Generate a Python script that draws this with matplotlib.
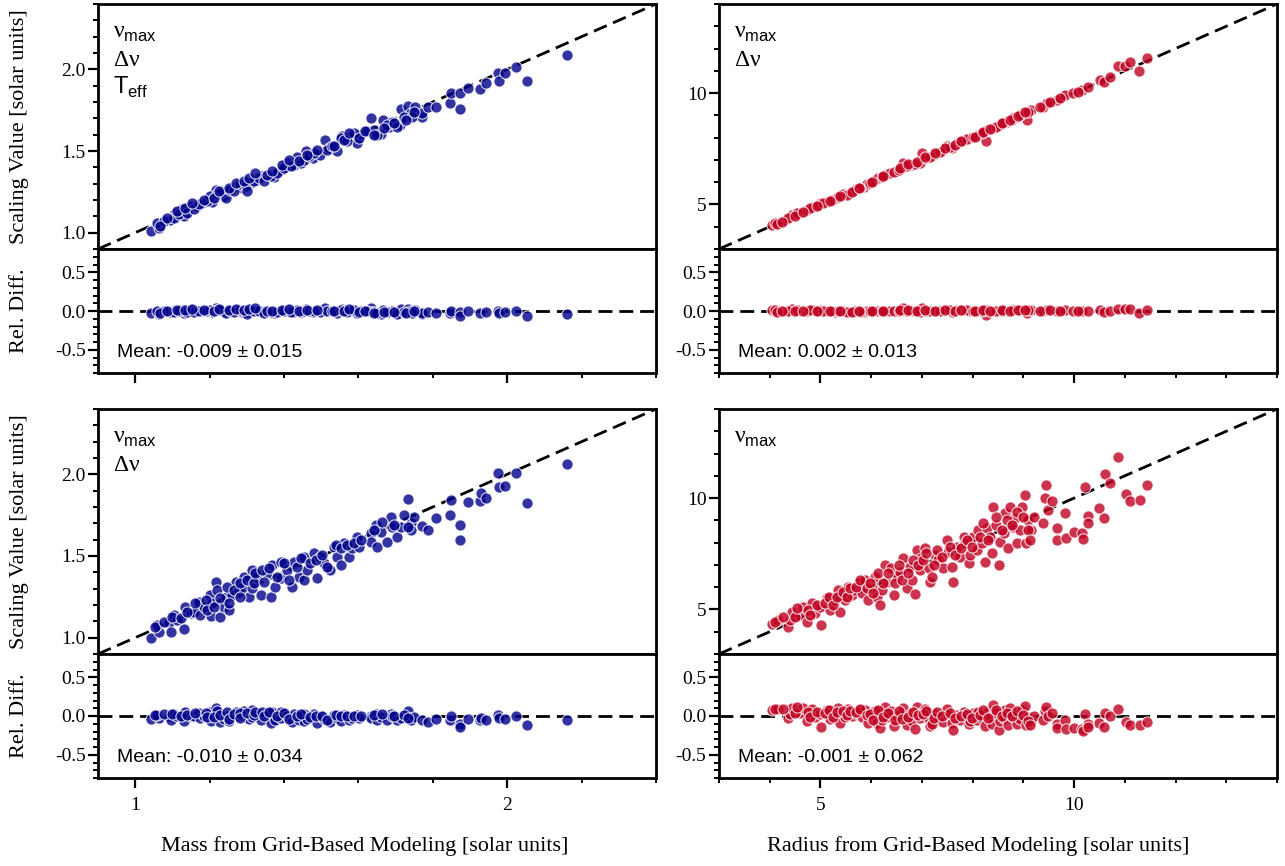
import matplotlib

matplotlib.use("Agg")
import matplotlib.pyplot as plt
import numpy as np
from matplotlib.ticker import MultipleLocator

# --- values ---
mass_grid_full = [
    1.043, 1.065, 1.059, 1.093, 1.108, 1.131, 1.126, 1.149, 1.167, 1.180,
    1.207, 1.216, 1.238, 1.247, 1.274, 1.288, 1.310, 1.328, 1.337, 1.373,
    1.391, 1.409, 1.427, 1.436, 1.458, 1.478, 1.498, 1.510, 1.521, 1.543,
    1.557, 1.579, 1.597, 1.606, 1.633, 1.636, 1.660, 1.667, 1.682, 1.689,
    1.712, 1.714, 1.734, 1.741, 1.751, 1.770, 1.772, 1.787, 1.809, 1.846,
    1.850, 1.873, 1.873, 1.895, 1.927, 1.942, 1.974, 1.978, 1.994, 2.023,
    2.053, 2.160,
    1.077, 1.104, 1.117, 1.140, 1.157, 1.171, 1.193, 1.202, 1.220, 1.229,
    1.243, 1.256, 1.265, 1.283, 1.297, 1.301, 1.319, 1.332, 1.346, 1.364,
    1.382, 1.400, 1.418, 1.445, 1.453, 1.467, 1.480, 1.516, 1.530, 1.552,
    1.570, 1.588, 1.624, 1.642, 1.651, 1.678, 1.705, 1.723, 1.745,
    1.068, 1.086, 1.113, 1.135, 1.153, 1.184, 1.211, 1.225, 1.252, 1.270,
    1.292, 1.305, 1.323, 1.355, 1.368, 1.395, 1.413, 1.440, 1.463, 1.490,
    1.534, 1.561, 1.575, 1.601, 1.619, 1.642, 1.669, 1.696, 1.727, 1.750,
]
mass_scaling_full = [
    1.010, 1.026, 1.057, 1.077, 1.122, 1.101, 1.142, 1.162, 1.162, 1.183,
    1.187, 1.264, 1.223, 1.254, 1.284, 1.274, 1.305, 1.325, 1.345, 1.339,
    1.386, 1.427, 1.416, 1.463, 1.498, 1.457, 1.476, 1.565, 1.518, 1.498,
    1.593, 1.589, 1.549, 1.604, 1.701, 1.610, 1.604, 1.687, 1.650, 1.680,
    1.660, 1.756, 1.776, 1.732, 1.768, 1.711, 1.735, 1.770, 1.770, 1.793,
    1.854, 1.854, 1.758, 1.888, 1.878, 1.915, 1.976, 1.931, 1.976, 2.012,
    1.929, 2.089,
    1.071, 1.091, 1.112, 1.122, 1.142, 1.173, 1.193, 1.223, 1.234, 1.244,
    1.213, 1.264, 1.254, 1.295, 1.284, 1.254, 1.315, 1.335, 1.315, 1.345,
    1.366, 1.396, 1.406, 1.427, 1.447, 1.467, 1.488, 1.508, 1.528, 1.579,
    1.559, 1.610, 1.620, 1.630, 1.599, 1.660, 1.650, 1.711, 1.711,
    1.040, 1.091, 1.132, 1.152, 1.179, 1.203, 1.213, 1.254, 1.274, 1.305,
    1.315, 1.335, 1.366, 1.355, 1.376, 1.416, 1.447, 1.437, 1.477, 1.508,
    1.528, 1.569, 1.610, 1.579, 1.620, 1.599, 1.640, 1.670, 1.691, 1.741,
]

mass_grid_nu = [
    1.043, 1.063, 1.059, 1.090, 1.095, 1.104, 1.113, 1.131, 1.135, 1.149,
    1.157, 1.171, 1.175, 1.184, 1.202, 1.205, 1.207, 1.216, 1.220, 1.227,
    1.238, 1.243, 1.252, 1.261, 1.270, 1.279, 1.288, 1.292, 1.305, 1.315,
    1.315, 1.328, 1.337, 1.355, 1.364, 1.368, 1.377, 1.391, 1.391, 1.409,
    1.422, 1.427, 1.440, 1.453, 1.453, 1.463, 1.480, 1.490, 1.498, 1.507,
    1.525, 1.534, 1.543, 1.552, 1.561, 1.575, 1.584, 1.597, 1.601, 1.633,
    1.633, 1.646, 1.651, 1.660, 1.678, 1.687, 1.689, 1.705, 1.714, 1.732,
    1.741, 1.741, 1.750, 1.770, 1.787, 1.809, 1.846, 1.850, 1.873, 1.873,
    1.895, 1.927, 1.929, 1.942, 1.974, 1.978, 1.994, 2.023, 2.053, 2.160,
    1.054, 1.077, 1.099, 1.122, 1.140, 1.162, 1.189, 1.193, 1.211, 1.229,
    1.247, 1.252, 1.265, 1.283, 1.283, 1.301, 1.319, 1.323, 1.341, 1.346,
    1.359, 1.382, 1.400, 1.413, 1.436, 1.445, 1.471, 1.485, 1.503, 1.516,
    1.539, 1.552, 1.570, 1.588, 1.606, 1.642, 1.664, 1.696, 1.723, 1.732,
]
mass_scaling_nu = [
    1.000, 1.037, 1.078, 1.088, 1.037, 1.139, 1.108, 1.053, 1.190, 1.153,
    1.159, 1.220, 1.139, 1.190, 1.261, 1.133, 1.214, 1.343, 1.292, 1.129,
    1.190, 1.251, 1.170, 1.261, 1.343, 1.282, 1.302, 1.374, 1.251, 1.415,
    1.302, 1.374, 1.261, 1.394, 1.247, 1.445, 1.312, 1.465, 1.364, 1.415,
    1.312, 1.465, 1.374, 1.496, 1.353, 1.415, 1.517, 1.364, 1.496, 1.456,
    1.415, 1.557, 1.496, 1.445, 1.578, 1.496, 1.547, 1.618, 1.557, 1.639,
    1.588, 1.690, 1.557, 1.649, 1.588, 1.737, 1.680, 1.615, 1.680, 1.847,
    1.700, 1.660, 1.737, 1.684, 1.660, 1.731, 1.751, 1.843, 1.690, 1.598,
    1.833, 1.837, 1.888, 1.854, 2.007, 1.921, 1.929, 2.010, 1.823, 2.062,
    1.067, 1.098, 1.129, 1.119, 1.159, 1.211, 1.231, 1.170, 1.190, 1.241,
    1.312, 1.211, 1.292, 1.333, 1.251, 1.353, 1.333, 1.394, 1.415, 1.343,
    1.425, 1.374, 1.456, 1.353, 1.435, 1.486, 1.456, 1.476, 1.506, 1.435,
    1.568, 1.547, 1.568, 1.578, 1.598, 1.660, 1.710, 1.690, 1.751, 1.680,
]

radius_grid_full = [
    4.04, 4.17, 4.30, 4.43, 4.60, 4.73, 4.86, 4.99, 5.12, 5.29,
    5.45, 5.58, 5.68, 5.85, 5.91, 6.08, 6.14, 6.31, 6.37, 6.50,
    6.60, 6.63, 6.80, 6.96, 7.00, 7.09, 7.23, 7.29, 7.42, 7.49,
    7.59, 7.69, 7.82, 7.95, 8.11, 8.26, 8.28, 8.41, 8.54, 8.67,
    8.77, 8.87, 9.00, 9.07, 9.16, 9.39, 9.46, 9.66, 9.82, 9.98,
    10.15, 10.28, 10.51, 10.58, 10.71, 10.87, 11.00, 11.10, 11.27, 11.43,
    4.10, 4.37, 4.53, 4.79, 4.96, 5.06, 5.22, 5.35, 5.52, 5.78,
    5.98, 6.21, 6.44, 6.54, 6.70, 6.86, 7.16, 7.36, 7.55, 7.75,
    7.88, 8.01, 8.18, 8.47, 8.60, 8.80, 8.93, 9.10,
    4.14, 4.24, 4.50, 4.66, 4.93, 5.19, 5.39, 5.62, 5.75, 6.01,
    6.24, 6.57, 6.73, 6.90, 7.06, 7.26, 7.46, 7.65, 7.78, 8.05,
    8.21, 8.34, 8.57, 8.74, 8.90, 9.03, 9.33, 9.52, 9.72, 10.08,
]
radius_scaling_full = [
    4.08, 4.18, 4.30, 4.53, 4.60, 4.75, 4.90, 5.05, 5.13, 5.23,
    5.47, 5.50, 5.65, 5.80, 5.92, 6.10, 6.17, 6.35, 6.40, 6.50,
    6.62, 6.85, 6.77, 6.85, 7.30, 7.07, 7.22, 7.30, 7.45, 7.63,
    7.52, 7.75, 7.89, 7.97, 8.12, 7.86, 8.34, 8.42, 8.57, 8.72,
    8.79, 8.94, 9.09, 8.79, 9.24, 9.39, 9.54, 9.69, 9.92, 9.99,
    10.14, 10.29, 10.59, 10.51, 10.74, 11.22, 11.22, 11.41, 10.99, 11.56,
    4.15, 4.38, 4.60, 4.83, 4.98, 5.08, 5.20, 5.35, 5.42, 5.72,
    5.95, 6.25, 6.47, 6.55, 6.73, 6.82, 7.15, 7.37, 7.60, 7.82,
    7.94, 8.04, 8.19, 8.49, 8.64, 8.87, 9.02, 9.17,
    4.11, 4.23, 4.48, 4.68, 4.95, 5.16, 5.38, 5.58, 5.72, 6.02,
    6.28, 6.62, 6.82, 6.92, 7.15, 7.30, 7.52, 7.67, 7.85, 8.04,
    8.27, 8.37, 8.64, 8.79, 8.97, 9.17, 9.39, 9.62, 9.77, 10.07,
]

radius_grid_nu = [
    4.04, 4.17, 4.37, 4.40, 4.43, 4.60, 4.66, 4.73, 4.83, 4.89,
    4.99, 5.02, 5.12, 5.19, 5.29, 5.35, 5.39, 5.48, 5.55, 5.62,
    5.68, 5.75, 5.81, 5.88, 5.94, 6.01, 6.08, 6.11, 6.17, 6.21,
    6.27, 6.31, 6.40, 6.44, 6.50, 6.57, 6.63, 6.70, 6.77, 6.80,
    6.86, 6.90, 6.96, 6.99, 7.06, 7.13, 7.16, 7.19, 7.26, 7.32,
    7.42, 7.49, 7.52, 7.59, 7.62, 7.69, 7.75, 7.82, 7.85, 7.92,
    7.95, 8.01, 8.08, 8.11, 8.18, 8.24, 8.28, 8.34, 8.38, 8.41,
    8.47, 8.51, 8.54, 8.61, 8.64, 8.70, 8.74, 8.80, 8.84, 8.88,
    8.93, 8.97, 9.03, 9.05, 9.10, 9.16, 9.20, 9.39, 9.43, 9.45,
    9.49, 9.56, 9.66, 9.67, 9.82, 9.85, 9.99, 10.15, 10.18, 10.21,
    10.28, 10.28, 10.50, 10.58, 10.61, 10.71, 10.87, 11.02, 11.10, 11.29,
    11.43,
    4.10, 4.27, 4.50, 4.53, 4.76, 4.79, 4.93, 5.09, 5.16, 5.25,
    5.32, 5.45, 5.52, 5.58, 5.71, 5.78, 5.91, 5.98, 6.04, 6.14,
    6.24, 6.34, 6.47, 6.54, 6.60, 6.73, 6.83, 6.93, 7.03, 7.09,
    7.23, 7.29, 7.39, 7.55, 7.65, 7.78, 7.88, 7.98, 8.15, 8.21,
    8.31, 8.47, 8.57, 8.67, 8.77, 8.87, 9.00, 9.10, 9.13,
]
radius_scaling_nu = [
    4.33, 4.53, 4.23, 4.53, 4.90, 4.75, 5.13, 4.45, 5.27, 4.83,
    5.13, 4.30, 5.50, 4.98, 5.42, 5.87, 4.90, 5.42, 6.02, 5.65,
    5.87, 6.17, 5.72, 6.32, 5.42, 5.95, 6.47, 5.57, 5.20, 5.87,
    7.00, 6.25, 6.85, 5.65, 6.47, 6.70, 7.30, 5.95, 6.92, 6.32,
    5.69, 7.67, 6.77, 7.30, 7.74, 6.85, 6.25, 6.47, 7.45, 7.22,
    6.85, 8.12, 7.60, 6.92, 6.25, 7.82, 7.37, 8.27, 7.97, 7.07,
    7.45, 8.27, 7.67, 8.57, 7.97, 7.15, 8.64, 8.27, 7.52, 9.62,
    8.79, 7.00, 8.04, 8.42, 9.32, 7.74, 9.62, 8.72, 9.09, 7.97,
    8.57, 9.62, 10.14, 7.97, 9.02, 8.57, 9.17, 8.87, 9.99, 10.59,
    9.47, 9.87, 8.64, 8.12, 9.35, 8.19, 8.49, 8.42, 8.16, 10.51,
    9.20, 8.87, 9.54, 9.09, 11.08, 10.66, 11.86, 10.17, 9.87, 9.92,
    10.59,
    4.45, 4.68, 4.68, 5.05, 4.98, 4.75, 5.20, 5.27, 5.57, 5.20,
    5.57, 5.80, 5.57, 5.95, 6.02, 6.32, 5.95, 6.17, 5.72, 6.62,
    6.17, 6.62, 6.17, 7.00, 6.32, 6.62, 7.22, 7.00, 7.22, 7.52,
    7.00, 7.67, 7.37, 7.82, 7.45, 7.74, 8.12, 7.82, 8.27, 8.87,
    8.12, 9.17, 8.57, 9.02, 8.79, 9.39, 9.17, 8.57, 8.12,
]

mean_labels = [
    "Mean: -0.009 ± 0.015", "Mean: 0.002 ± 0.013",
    "Mean: -0.010 ± 0.034", "Mean: -0.001 ± 0.062",
]
relation_labels = [
    [r"$\mathrm{ν}_\mathsf{max}$", r"$\mathrm{Δν}$", r"$\mathsf{T}_\mathsf{eff}$"],
    [r"$\mathrm{ν}_\mathsf{max}$", r"$\mathrm{Δν}$"],
    [r"$\mathrm{ν}_\mathsf{max}$", r"$\mathrm{Δν}$"],
    [r"$\mathrm{ν}_\mathsf{max}$"],
]

plt.rcParams["font.family"] = ["Liberation Serif", "DejaVu Serif"]
plt.rcParams["mathtext.fontset"] = "custom"
plt.rcParams["mathtext.rm"] = "Liberation Serif"
plt.rcParams["mathtext.sf"] = "Liberation Sans"
plt.rcParams["axes.unicode_minus"] = False

BLUE = "#00008B"
RED = "#C00020"
DASH = (0, (5, 2.5))

fig = plt.figure(figsize=(12.85, 8.66), dpi=100)
W, H = 1285.0, 866.0


def box(left, top, width, height):
    return [left / W, 1 - (top + height) / H, width / W, height / H]


def style(axis):
    for spine in axis.spines.values():
        spine.set_linewidth(2.0)
    axis.tick_params(which="both", direction="out", labelsize=14, pad=2)
    axis.tick_params(which="major", length=7, width=1.6)
    axis.tick_params(which="minor", length=3.5, width=1.4)


panels = [
    (mass_grid_full, mass_scaling_full, BLUE, (0.9, 2.4), 0.5, 0.1, 1, 0.2, 98, 4),
    (radius_grid_full, radius_scaling_full, RED, (3, 14), 5, 1, 5, 1, 719, 4),
    (mass_grid_nu, mass_scaling_nu, BLUE, (0.9, 2.4), 0.5, 0.1, 1, 0.2, 98, 409),
    (radius_grid_nu, radius_scaling_nu, RED, (3, 14), 5, 1, 5, 1, 719, 409),
]

for i, (gx, sy, color, lims, ymaj, ymin, xmaj, xmin, left, top) in enumerate(panels):
    gx = np.asarray(gx)
    sy = np.asarray(sy)
    rel = (sy - gx) / gx

    main = fig.add_axes(box(left, top, 558, 245))
    res = fig.add_axes(box(left, top + 245, 558, 124))

    main.plot(lims, lims, color="black", lw=2, ls=DASH, zorder=1)
    main.scatter(gx, sy, s=65, color=color, alpha=0.8, edgecolors="white",
                 linewidths=0.8, zorder=2)
    main.set_xlim(lims)
    main.set_ylim(lims)
    main.yaxis.set_major_locator(MultipleLocator(ymaj))
    main.yaxis.set_minor_locator(MultipleLocator(ymin))
    main.tick_params(axis="x", which="both", bottom=False, labelbottom=False)
    style(main)

    res.axhline(0, color="black", lw=2, ls=DASH, zorder=1)
    res.scatter(gx, rel, s=65, color=color, alpha=0.8, edgecolors="white",
                linewidths=0.8, zorder=2)
    res.set_xlim(lims)
    res.set_ylim(-0.8, 0.8)
    res.yaxis.set_major_locator(MultipleLocator(0.5))
    res.yaxis.set_minor_locator(MultipleLocator(0.1))
    res.xaxis.set_major_locator(MultipleLocator(xmaj))
    res.xaxis.set_minor_locator(MultipleLocator(xmin))
    style(res)
    res.tick_params(axis="x", pad=7)
    if i < 2:
        res.tick_params(axis="x", labelbottom=False)

    res.text(0.034, 0.129, mean_labels[i], transform=res.transAxes,
             family="Liberation Sans", fontsize=14, va="baseline")

    for k, label in enumerate(relation_labels[i]):
        main.text(0.027, 0.861 - 0.114 * k, label, transform=main.transAxes,
                  fontsize=17, va="baseline")

# axis titles
for yc_main, yc_res in [(126.5, 311), (531.5, 716)]:
    fig.text(20 / W, 1 - yc_main / H, "Scaling Value [solar units]", rotation=90,
             ha="center", va="center", fontsize=16)
    fig.text(20 / W, 1 - yc_res / H, "Rel. Diff.", rotation=90,
             ha="center", va="center", fontsize=16)

fig.text(365 / W, 1 - 846 / H, "Mass from Grid-Based Modeling [solar units]",
         ha="center", va="center", fontsize=16)
fig.text(978 / W, 1 - 846 / H, "Radius from Grid-Based Modeling [solar units]",
         ha="center", va="center", fontsize=16)

fig.savefig("out.png", dpi=100)
plt.close(fig)
